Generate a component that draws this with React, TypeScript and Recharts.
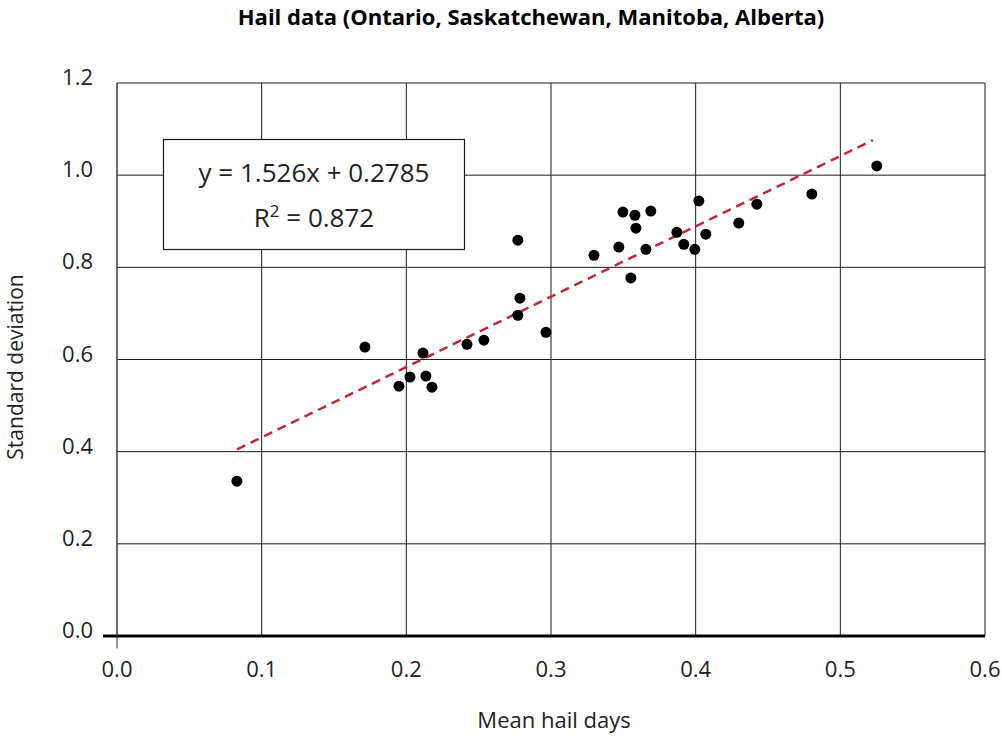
import React from 'react';
import {
  ScatterChart,
  Scatter,
  XAxis,
  YAxis,
  CartesianGrid,
  ReferenceLine,
} from 'recharts';

const meanHailDays = [
  0.0829, 0.1714, 0.1949, 0.2025, 0.2115, 0.2135, 0.2177, 0.2419, 0.2536, 0.2771,
  0.2771, 0.2785, 0.2965, 0.3297, 0.3469, 0.3497, 0.3552, 0.358, 0.3587, 0.3656,
  0.369, 0.387, 0.3918, 0.3994, 0.4022, 0.407, 0.4298, 0.4423, 0.4803, 0.5252,
];
const stdDeviation = [
  0.336, 0.627, 0.542, 0.562, 0.614, 0.564, 0.54, 0.633, 0.642, 0.859,
  0.696, 0.733, 0.659, 0.826, 0.844, 0.92, 0.777, 0.913, 0.885, 0.839,
  0.922, 0.876, 0.85, 0.839, 0.944, 0.872, 0.896, 0.937, 0.959, 1.02,
];
const trendX = [0.083, 0.5225];
const trendY = [0.405, 1.076];
const xTicks = [0, 0.1, 0.2, 0.3, 0.4, 0.5, 0.6];
const yTicks = [0, 0.2, 0.4, 0.6, 0.8, 1.0, 1.2];

const points = meanHailDays.map((x, i) => ({ x, y: stdDeviation[i] }));
const trend = trendX.map((x, i) => ({ x, y: trendY[i] }));

const FONT = '"Open Sans", "Noto Sans", sans-serif';

const XTick = (props: any) => {
  const { x, y, payload } = props;
  return (
    <text x={x} y={y + 41} textAnchor="middle" fontSize={22} fontFamily={FONT} fill="#222">
      {Number(payload.value).toFixed(1)}
    </text>
  );
};

const YTick = (props: any) => {
  const { x, y, payload } = props;
  return (
    <text x={x - 24} y={y + 2} textAnchor="end" fontSize={22} fontFamily={FONT} fill="#222">
      {Number(payload.value).toFixed(1)}
    </text>
  );
};

const Dot = (props: any) => <circle cx={props.cx} cy={props.cy} r={5.5} fill="#000" />;
const NoDot = () => <g />;

export default function App() {
  return (
    <div style={{ position: 'absolute', left: 0, top: 0, width: 1002, height: 738, background: '#fff' }}>
      <ScatterChart width={1002} height={738} margin={{ top: 83, right: 17, bottom: 0, left: 0 }}>
        <CartesianGrid stroke="#1a1a1a" strokeWidth={1} />
        <XAxis
          type="number"
          dataKey="x"
          domain={[0, 0.6]}
          ticks={xTicks}
          height={102}
          tickLine={false}
          tickSize={0}
          tickMargin={0}
          axisLine={false}
          tick={<XTick />}
          interval={0}
        />
        <YAxis
          type="number"
          dataKey="y"
          domain={[0, 1.2]}
          ticks={yTicks}
          width={117}
          tickLine={false}
          tickSize={0}
          tickMargin={0}
          axisLine={{ stroke: '#555', strokeWidth: 1.2 }}
          tick={<YTick />}
          interval={0}
        />
        <ReferenceLine
          segment={[{ x: 0, y: 0 }, { x: 0, y: -0.027 }]}
          stroke="#555"
          strokeWidth={1.2}
          ifOverflow="visible"
        />
        <ReferenceLine
          segment={[{ x: -0.0097, y: 0 }, { x: 0.6, y: 0 }]}
          stroke="#000"
          strokeWidth={3}
          ifOverflow="visible"
        />
        <Scatter
          data={trend}
          shape={<NoDot />}
          line={{ stroke: '#c62537', strokeWidth: 2.5, strokeDasharray: '9 6' }}
          isAnimationActive={false}
        />
        <Scatter data={points} shape={<Dot />} isAnimationActive={false} />
      </ScatterChart>
      <svg
        width={1002}
        height={738}
        style={{ position: 'absolute', left: 0, top: 0, pointerEvents: 'none' }}
      >
        <text x={531} y={25} textAnchor="middle" fontSize={22} fontWeight="bold" fontFamily={FONT} fill="#000">
          Hail data (Ontario, Saskatchewan, Manitoba, Alberta)
        </text>
        <text x={554} y={728} textAnchor="middle" fontSize={22} fontFamily={FONT} fill="#222">
          Mean hail days
        </text>
        <text
          x={0}
          y={0}
          transform="translate(23,367) rotate(-90)"
          textAnchor="middle"
          fontSize={21}
          fontFamily={FONT}
          fill="#222"
        >
          Standard deviation
        </text>
        <rect x={163.5} y={139.5} width={301} height={110} fill="#fff" stroke="#1a1a1a" strokeWidth={1.2} />
        <text x={314} y={182} textAnchor="middle" fontSize={26} fontFamily={FONT} fill="#222">
          y = 1.526x + 0.2785
        </text>
        <text x={314} y={227} textAnchor="middle" fontSize={26} fontFamily={FONT} fill="#222">
          R<tspan dy={-10} fontSize={17}>2</tspan>
          <tspan dy={10}> = 0.872</tspan>
        </text>
      </svg>
    </div>
  );
}
